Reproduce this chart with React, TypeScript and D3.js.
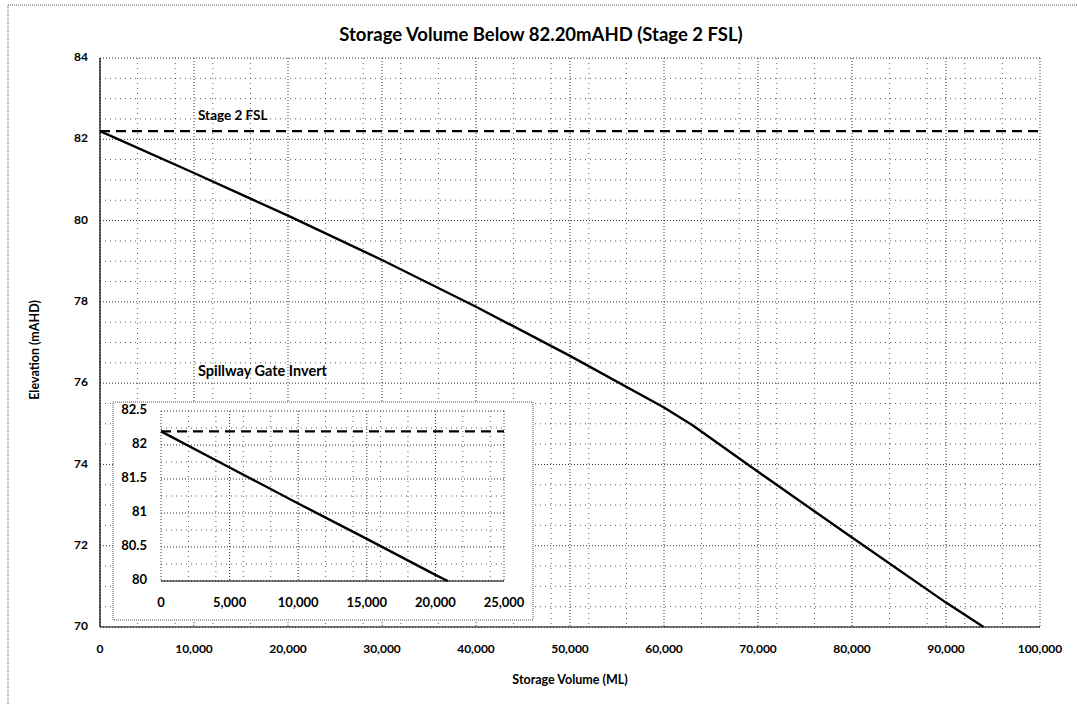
import React from 'react';
import * as d3 from 'd3';

// main curve: storage volume below FSL (ML) vs elevation (mAHD)
const volumes = [0, 10000, 20000, 30000, 40000, 50000, 60000, 63000, 70000, 80000, 90000, 94000];
const elevations = [82.2, 81.17, 80.12, 79.03, 77.88, 76.67, 75.4, 74.97, 73.82, 72.2, 70.6, 70.0];

// inset: zoom on the top 2.2 m
const insetVolumes = [0, 5000, 10000, 15000, 20000, 20900];
const insetElevations = [82.2, 81.67, 81.14, 80.62, 80.09, 80.0];

const fsl = 82.2;
const xTicks = [0, 10000, 20000, 30000, 40000, 50000, 60000, 70000, 80000, 90000, 100000];
const yTicks = [70, 72, 74, 76, 78, 80, 82, 84];
const insetXTicks = [0, 5000, 10000, 15000, 20000, 25000];
const insetYTicks = [80, 80.5, 81, 81.5, 82, 82.5];

const FONT = 'Lato, "Open Sans", sans-serif';
const GRID = '#333';

const App: React.FC = () => {
  const width = 1077;
  const height = 704;

  const x = d3.scaleLinear().domain([0, 100000]).range([100, 1040]);
  const y = d3.scaleLinear().domain([70, 84]).range([627, 58]);

  const ix = d3.scaleLinear().domain([0, 25000]).range([161, 504]);
  const iy = d3.scaleLinear().domain([80, 82.5]).range([581, 411]);

  const fmt = d3.format(',');

  const line = d3.line<number>()
    .x((_, i) => x(volumes[i]))
    .y(d => y(d));

  const insetLine = d3.line<number>()
    .x((_, i) => ix(insetVolumes[i]))
    .y(d => iy(d));

  const minorX = d3.range(4000, 100000, 4000).filter(v => v % 10000 !== 0);
  const minorY = d3.range(70.5, 84, 0.5).filter(v => v % 2 !== 0);
  const insetMinorX = d3.range(2000, 25000, 2000).filter(v => v % 5000 !== 0);
  const insetMinorY = d3.range(80.25, 82.5, 0.25).filter(v => v % 0.5 !== 0);

  return (
    <svg width={width} height={height}
      style={{ position: 'absolute', left: 0, top: 0, background: '#fff' }}
      fontFamily={FONT}>
      {/* outer frame */}
      <line x1={8} x2={width} y1={5} y2={5} stroke="#555" strokeDasharray="1,1" />
      <line x1={8} x2={8} y1={5} y2={height} stroke="#555" strokeDasharray="1,1" />

      <text x={541} y={41} textAnchor="middle" fontSize={18.5} fontWeight="bold">
        Storage Volume Below 82.20mAHD (Stage 2 FSL)
      </text>

      {/* minor grid */}
      {minorX.map(v => (
        <line key={'mx' + v} x1={x(v)} x2={x(v)} y1={y(84)} y2={y(70)}
          stroke={GRID} strokeWidth={0.8} strokeDasharray="1,4" />
      ))}
      {minorY.map(v => (
        <line key={'my' + v} x1={x(0)} x2={x(100000)} y1={y(v)} y2={y(v)}
          stroke={GRID} strokeWidth={0.8} strokeDasharray="1,4" />
      ))}
      {/* major grid */}
      {xTicks.map(v => (
        <line key={'gx' + v} x1={x(v)} x2={x(v)} y1={y(84)} y2={y(70)}
          stroke={GRID} strokeWidth={1} strokeDasharray="1,2" />
      ))}
      {yTicks.map(v => (
        <line key={'gy' + v} x1={x(0)} x2={x(100000)} y1={y(v)} y2={y(v)}
          stroke={GRID} strokeWidth={1} strokeDasharray="1,2" />
      ))}
      {/* axes */}
      <line x1={x(0)} x2={x(0)} y1={y(84)} y2={y(70)} stroke="#000" strokeWidth={1.2} />
      <line x1={x(0)} x2={x(100000)} y1={y(70)} y2={y(70)} stroke="#000" strokeWidth={1.2} />

      {yTicks.map(v => (
        <text key={'ty' + v} x={x(0) - 12} y={y(v)} textAnchor="end"
          dominantBaseline="middle" fontSize={12} fontWeight="bold">{v}</text>
      ))}
      {xTicks.map(v => (
        <text key={'tx' + v} x={x(v)} y={y(70) + 23} textAnchor="middle"
          dominantBaseline="middle" fontSize={12} fontWeight="bold">{fmt(v)}</text>
      ))}

      <text x={570} y={684} textAnchor="middle" fontSize={12.5} fontWeight="bold">
        Storage Volume (ML)
      </text>
      <text transform={`translate(39, ${350}) rotate(-90)`} textAnchor="middle"
        fontSize={12.5} fontWeight="bold">Elevation (mAHD)</text>

      {/* FSL line */}
      <line x1={x(0)} x2={x(100000)} y1={y(fsl)} y2={y(fsl)}
        stroke="#000" strokeWidth={2.2} strokeDasharray="10,6" />
      <text x={198} y={y(fsl) - 11} fontSize={13.5} fontWeight="bold">Stage 2 FSL</text>

      <path d={line(elevations) || ''} fill="none" stroke="#000" strokeWidth={2.4} />

      <text x={198} y={376} fontSize={14.5} fontWeight="bold">Spillway Gate Invert</text>

      {/* inset */}
      <rect x={113} y={402} width={420} height={218} fill="#fff"
        stroke="#555" strokeDasharray="1,1" />
      {insetMinorX.map(v => (
        <line key={'imx' + v} x1={ix(v)} x2={ix(v)} y1={iy(82.5)} y2={iy(80)}
          stroke={GRID} strokeWidth={0.8} strokeDasharray="1,4" />
      ))}
      {insetMinorY.map(v => (
        <line key={'imy' + v} x1={ix(0)} x2={ix(25000)} y1={iy(v)} y2={iy(v)}
          stroke={GRID} strokeWidth={0.8} strokeDasharray="1,4" />
      ))}
      {insetXTicks.map(v => (
        <line key={'igx' + v} x1={ix(v)} x2={ix(v)} y1={iy(82.5)} y2={iy(80)}
          stroke={GRID} strokeWidth={1} strokeDasharray="1,2" />
      ))}
      {insetYTicks.map(v => (
        <line key={'igy' + v} x1={ix(0)} x2={ix(25000)} y1={iy(v)} y2={iy(v)}
          stroke={GRID} strokeWidth={1} strokeDasharray="1,2" />
      ))}
      <line x1={ix(0)} x2={ix(25000)} y1={iy(80)} y2={iy(80)} stroke="#000" strokeWidth={1.2} />
      {insetYTicks.map(v => (
        <text key={'ity' + v} x={ix(0) - 14} y={iy(v)} textAnchor="end"
          dominantBaseline="middle" fontSize={13} fontWeight="bold">{v}</text>
      ))}
      {insetXTicks.map(v => (
        <text key={'itx' + v} x={ix(v)} y={iy(80) + 23} textAnchor="middle"
          dominantBaseline="middle" fontSize={13} fontWeight="bold">{fmt(v)}</text>
      ))}
      <line x1={ix(0)} x2={ix(25000)} y1={iy(fsl)} y2={iy(fsl)}
        stroke="#000" strokeWidth={2.2} strokeDasharray="10,6" />
      <path d={insetLine(insetElevations) || ''} fill="none" stroke="#000" strokeWidth={2.4} />
    </svg>
  );
};

export default App;
